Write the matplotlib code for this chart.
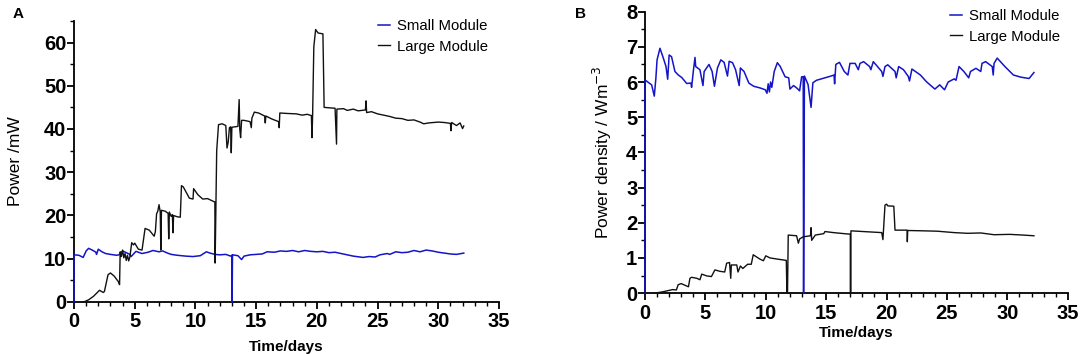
import matplotlib
matplotlib.use("Agg")

import matplotlib.pyplot as plt
from matplotlib.ticker import MultipleLocator


# =====================================================
# DATA
# =====================================================

# Panel A - Power (mW)
small_a_t = [
    0.0, 0.0, 0.4, 0.75, 1.0, 1.2, 1.5, 1.8, 1.85, 2.0, 2.3, 2.6, 3.0, 3.5,
    3.7, 4.0, 4.3, 4.6, 4.7, 5.1, 5.6, 6.1, 6.5, 7.0, 7.3, 7.7, 8.0, 8.5,
    9.2, 9.8, 10.4, 10.9, 11.2, 11.6, 12.0, 12.5, 12.9, 13.0, 13.02, 13.05,
    13.5, 13.8, 14.0, 14.5, 15.0, 15.5, 15.9, 16.5, 17.0, 17.5, 18.0, 18.5,
    19.0, 19.5, 20.0, 20.5, 21.0, 21.5, 22.0, 22.5, 23.0, 23.8, 24.3, 24.8,
    25.2, 25.8, 26.0, 26.5, 27.0, 27.5, 28.0, 28.5, 29.0, 29.5, 30.0, 30.5,
    31.0, 31.5, 32.1
]
small_a_p = [
    0.0, 10.9, 10.8, 10.3, 11.8, 12.4, 12.0, 11.5, 11.0, 12.2, 11.6, 11.2,
    11.0, 10.8, 10.9, 11.8, 11.4, 11.0, 10.5, 11.7, 11.2, 11.5, 11.9, 11.6,
    11.8, 11.3, 11.0, 10.8, 10.6, 10.5, 10.7, 11.6, 11.3, 11.0, 10.9, 11.0,
    10.6, 10.8, 0.0, 10.9, 10.7, 9.8, 10.6, 10.9, 11.0, 11.1, 11.6, 11.5,
    11.8, 11.7, 11.9, 11.6, 11.9, 11.7, 11.6, 11.7, 11.4, 11.5, 11.2, 10.9,
    10.6, 10.3, 10.5, 10.4, 10.9, 11.2, 11.0, 11.6, 11.4, 11.5, 11.9, 11.6,
    12.0, 11.8, 11.5, 11.3, 11.1, 11.0, 11.3
]

large_a_t = [
    0.8, 1.2, 1.6, 2.1, 2.4, 2.5, 2.8, 3.0, 3.3, 3.65, 3.75, 3.8, 3.9, 4.0,
    4.1, 4.2, 4.3, 4.4, 4.5, 4.6, 4.75, 4.9, 5.0, 5.3, 5.6, 5.85, 6.2, 6.6,
    6.7, 6.8, 6.9, 7.0, 7.1, 7.15, 7.2, 7.5, 7.75, 7.8, 7.85, 8.0, 8.1, 8.15,
    8.2, 8.5, 8.75, 8.85, 9.0, 9.5, 9.8, 9.85, 10.2, 10.6, 11.0, 11.6, 11.62,
    11.75, 11.9, 12.2, 12.5, 12.6, 12.7, 12.8, 12.9, 12.95, 13.0, 13.5, 13.6,
    13.65, 13.72, 13.8, 14.0, 14.5, 14.6, 14.65, 14.85, 15.2, 15.7, 15.75,
    15.8, 16.3, 16.85, 16.9, 16.95, 17.5, 18.3, 18.8, 19.2, 19.55, 19.6,
    19.65, 19.75, 19.9, 20.1, 20.5, 20.6, 21.0, 21.5, 21.62, 21.65,
    22.2, 22.5, 23.0, 23.4, 24.0, 24.05, 24.1, 24.5, 25.0, 25.5, 26.0, 26.5,
    27.0, 27.5, 28.0, 28.5, 28.8, 29.2, 30.0, 30.5, 31.0, 31.05, 31.1, 31.5,
    31.8, 32.0, 32.1
]
large_a_p = [
    0.0, 0.5, 1.3, 2.7, 2.2, 2.4, 6.3, 6.7, 6.0, 4.7, 4.0, 11.6, 10.5, 12.0,
    10.2, 11.2, 9.6, 10.8, 9.5, 10.4, 13.7, 13.2, 13.6, 12.2, 12.0, 17.0,
    16.6, 15.2, 16.3, 20.4, 21.0, 22.5, 20.8, 12.0, 21.2, 21.0, 20.5, 14.6,
    20.8, 19.8, 20.2, 16.0, 20.0, 19.7, 19.6, 26.9, 26.6, 24.0, 23.8, 26.2,
    24.8, 23.8, 23.9, 23.1, 9.0, 35.0, 41.0, 41.2, 40.8, 35.6, 37.0, 40.3,
    40.5, 34.5, 40.4, 40.6, 46.8, 40.0, 38.0, 42.0, 42.0, 41.7, 40.3, 42.5,
    43.9, 43.7, 43.0, 41.4, 43.0, 42.3, 41.7, 40.3, 43.7, 43.6, 43.5, 43.2,
    43.4, 43.1, 38.0, 43.0, 59.0, 63.0, 62.2, 62.0, 45.0, 44.9, 44.8, 36.5,
    44.6,
    44.7, 44.3, 44.6, 44.2, 44.4, 46.5, 43.8, 44.0, 43.5, 43.2, 42.9, 42.5,
    42.4, 42.0, 42.1, 41.6, 41.2, 41.4, 41.6, 41.5, 41.3, 39.6, 41.5, 40.8,
    41.4, 40.1, 40.7
]

# Panel B - Power density (W m^-3)
small_b_t = [
    0.0, 0.0, 0.55, 0.77, 0.9, 1.0, 1.24, 1.52, 1.74, 1.88, 2.0, 2.2, 2.48,
    2.76, 3.04, 3.45, 3.8, 3.86, 4.0, 4.14, 4.2, 4.55, 4.8, 4.9, 5.3, 5.56,
    5.75, 6.0, 6.28, 6.55, 6.83, 6.97, 7.25, 7.5, 7.8, 7.9, 8.2, 8.6, 9.0,
    9.55, 9.96, 10.1, 10.2, 10.3, 10.4, 10.5, 10.7, 10.96, 11.2, 11.6, 11.9,
    12.0, 12.3, 12.6, 12.8, 12.97, 13.1, 13.13, 13.2, 13.5, 13.75, 13.9,
    14.2, 14.7, 15.4, 15.65, 15.7, 15.8, 16.1, 16.5, 16.8, 16.97, 17.4,
    17.66, 17.8, 18.1, 18.6, 18.7, 18.9, 19.6, 19.7, 19.87, 20.1, 20.7,
    20.8, 21.0, 21.4, 21.8, 21.9, 22.1, 22.8, 23.3, 24.0, 24.4, 24.8, 25.1,
    25.6, 25.75, 26.0, 26.4, 26.8, 26.95, 27.4, 27.8, 27.9, 28.2, 28.75,
    28.83, 28.9, 29.16, 29.8, 30.5, 31.1, 31.8, 32.2
]
small_b_p = [
    0.0, 6.06, 5.92, 5.6, 6.1, 6.63, 6.96, 6.68, 6.44, 6.08, 6.77, 6.72,
    6.3, 6.2, 6.13, 5.96, 5.97, 5.85, 6.3, 6.7, 6.44, 6.35, 5.9, 6.3, 6.5,
    6.3, 5.88, 6.4, 6.63, 6.56, 6.17, 6.59, 6.55, 6.35, 5.9, 6.4, 6.3, 5.97,
    5.88, 5.83, 5.78, 5.68, 5.95, 5.72, 6.0, 5.85, 6.3, 6.55, 6.44, 6.15,
    6.12, 5.8, 5.9, 5.82, 5.75, 6.15, 6.15, 0.0, 6.17, 5.93, 5.28, 5.98,
    6.05, 6.1, 6.17, 6.2, 5.95, 6.5, 6.56, 6.3, 6.2, 6.53, 6.53, 6.35, 6.53,
    6.58, 6.44, 6.35, 6.58, 6.3, 6.16, 6.44, 6.49, 6.3, 6.12, 6.44, 6.35,
    6.16, 6.03, 6.37, 6.2, 6.01, 5.8, 5.92, 5.78, 6.0, 6.09, 6.05, 6.44,
    6.3, 6.12, 6.3, 6.39, 6.3, 6.53, 6.58, 6.44, 6.2, 6.53, 6.68, 6.44,
    6.2, 6.14, 6.1, 6.27
]

large_b_t = [
    0.83, 1.52, 1.9, 2.3, 2.6, 2.75, 3.0, 3.6, 3.72, 3.86, 4.3, 4.55, 4.7,
    5.1, 5.5, 5.79, 6.2, 6.6, 6.76, 7.0, 7.1, 7.15, 7.6, 7.7, 7.9, 8.1, 8.5,
    8.8, 8.96, 9.5, 9.8, 10.0, 10.35, 10.9, 11.7, 11.75, 11.8, 11.86, 12.55,
    12.7, 12.8, 13.1, 13.7, 13.75, 13.8, 14.1, 14.8, 14.9, 15.6, 16.8, 17.0,
    17.0, 17.05, 17.05, 19.6, 19.7, 19.87, 20.0, 20.1, 20.6, 20.7, 21.7,
    21.72, 21.75, 23.1, 24.2, 25.6, 26.7, 27.8, 28.9, 30.2, 31.3, 32.2
]
large_b_p = [
    0.0, 0.04, 0.07, 0.1, 0.09, 0.24, 0.27, 0.18, 0.42, 0.45, 0.42, 0.38,
    0.54, 0.49, 0.47, 0.66, 0.62, 0.6, 0.85, 0.87, 0.42, 0.8, 0.8, 0.6,
    0.77, 0.7, 0.82, 0.82, 1.09, 0.97, 0.92, 1.06, 1.0, 0.97, 0.93, 0.0,
    0.0, 1.65, 1.63, 1.42, 1.54, 1.6, 1.63, 1.86, 1.5, 1.65, 1.69, 1.75,
    1.72, 1.68, 1.68, 0.0, 0.0, 1.77, 1.72, 1.52, 2.5, 2.53, 2.48, 2.47,
    1.79, 1.79, 1.46, 1.78, 1.77, 1.76, 1.72, 1.7, 1.71, 1.66, 1.67, 1.65,
    1.63
]

BLUE = "#1414c8"
BLACK = "#111111"

plt.rcParams["font.family"] = ["Liberation Sans", "DejaVu Sans"]


# =====================================================
# FIGURE
# =====================================================

fig = plt.figure(figsize=(10.84, 3.54), dpi=100)

ax_a = fig.add_axes([0.0683, 0.147, 0.392, 0.794])
ax_b = fig.add_axes([0.595, 0.172, 0.390, 0.795])


def style_axis(ax, xmax, ymax, ymajor, yminor):

    ax.set_xlim(0, xmax)
    ax.set_ylim(0, ymax)

    ax.xaxis.set_major_locator(MultipleLocator(5))
    ax.xaxis.set_minor_locator(MultipleLocator(1))
    ax.yaxis.set_major_locator(MultipleLocator(ymajor))
    ax.yaxis.set_minor_locator(MultipleLocator(yminor))

    for side in ["top", "right"]:
        ax.spines[side].set_visible(False)
    for side in ["left", "bottom"]:
        ax.spines[side].set_linewidth(1.3)

    ax.tick_params(which="major", length=5, width=1.3, labelsize=14.5)
    ax.tick_params(which="minor", length=3, width=1.0)
    ax.tick_params(axis="y", which="major", pad=0.5)
    ax.tick_params(axis="x", which="major", pad=2.5)

    for label in ax.get_xticklabels() + ax.get_yticklabels():
        label.set_fontweight("bold")

    ax.set_xlabel("Time/days", fontsize=11, fontweight="bold", labelpad=0)


# =====================================================
# PANEL A
# =====================================================

ax_a.plot(small_a_t, small_a_p, color=BLUE, lw=1.1, label="Small Module",
          clip_on=False, zorder=3)
ax_a.plot(large_a_t, large_a_p, color=BLACK, lw=1.0, label="Large Module",
          clip_on=False, zorder=3)

style_axis(ax_a, 35, 65, 10, 5)
ax_a.set_yticks([0, 10, 20, 30, 40, 50, 60])
for label in ax_a.get_yticklabels():
    label.set_fontweight("bold")

ax_a.xaxis.set_label_coords(0.5, -0.135)
ax_a.set_ylabel("Power /mW", fontsize=12.5, labelpad=15)

ax_a.legend(
    loc="upper left",
    bbox_to_anchor=(378 / 1084, 1 - 19 / 354),
    bbox_transform=fig.transFigure,
    frameon=False,
    fontsize=10.7,
    handlelength=0.8,
    handletextpad=0.5,
    labelspacing=0.45,
    borderpad=0,
    borderaxespad=0
)

fig.text(13 / 1084, 1 - 14 / 354, "A", fontsize=11, fontweight="bold",
         va="center")


# =====================================================
# PANEL B
# =====================================================

ax_b.plot(small_b_t, small_b_p, color=BLUE, lw=1.1, label="Small Module",
          clip_on=False, zorder=3)
ax_b.plot(large_b_t, large_b_p, color=BLACK, lw=1.0, label="Large Module",
          clip_on=False, zorder=3)

style_axis(ax_b, 35, 8, 1, 0.5)

ax_b.xaxis.set_label_coords(0.5, -0.118)
ax_b.set_ylabel("Power density / Wm$^{-3}$", fontsize=12.5, labelpad=9)

ax_b.legend(
    loc="upper left",
    bbox_to_anchor=(950 / 1084, 1 - 9 / 354),
    bbox_transform=fig.transFigure,
    frameon=False,
    fontsize=10.7,
    handlelength=0.8,
    handletextpad=0.5,
    labelspacing=0.45,
    borderpad=0,
    borderaxespad=0
)

fig.text(575 / 1084, 1 - 14 / 354, "B", fontsize=11, fontweight="bold",
         va="center")

fig.savefig("out.png", dpi=100)
